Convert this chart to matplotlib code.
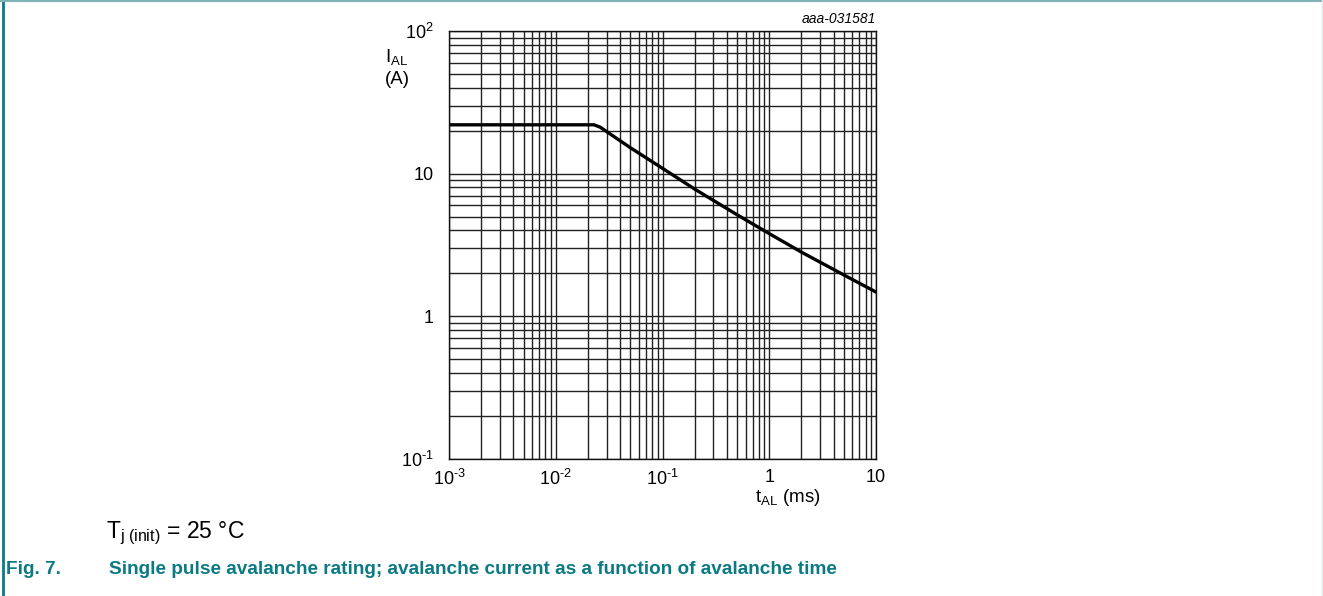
import matplotlib
matplotlib.use("Agg")
import matplotlib.pyplot as plt
from matplotlib.ticker import LogLocator, FixedLocator, NullFormatter

plt.rcParams['font.family'] = ['Liberation Sans', 'DejaVu Sans']
plt.rcParams['mathtext.fontset'] = 'custom'
plt.rcParams['mathtext.rm'] = 'Liberation Sans'
plt.rcParams['mathtext.it'] = 'Liberation Sans:italic'

# avalanche time (ms) vs avalanche current (A)
t_al = [0.001, 0.005, 0.0228, 0.026, 0.05, 0.1, 0.2, 0.5, 1, 2, 5, 10]
i_al = [22, 22, 22, 21.2, 15.2, 10.9, 7.8, 5.15, 3.8, 2.82, 1.95, 1.48]

x_ticks = [1e-3, 1e-2, 1e-1, 1, 10]
x_labels = [r'$10^{\text{-}3}$', r'$10^{\text{-}2}$', r'$10^{\text{-}1}$', '1', '10']
y_ticks = [0.1, 1, 10, 100]
y_labels = [r'$10^{\text{-}1}$', '1', '10', r'$10^{2}$']

teal = '#0b7a84'

fig = plt.figure(figsize=(13.23, 5.96), dpi=100)
ax = fig.add_axes([449 / 1323, 1 - 459 / 596, 427 / 1323, 428 / 596])

ax.set_xscale('log')
ax.set_yscale('log')
ax.set_xlim(1e-3, 10)
ax.set_ylim(0.1, 100)

ax.xaxis.set_major_locator(FixedLocator(x_ticks))
ax.set_xticklabels(x_labels)
ax.yaxis.set_major_locator(FixedLocator(y_ticks))
ax.set_yticklabels(y_labels)
for axis in (ax.xaxis, ax.yaxis):
    axis.set_minor_locator(LogLocator(base=10, subs=range(2, 10), numticks=20))
    axis.set_minor_formatter(NullFormatter())

ax.grid(True, which='both', color='#222222', linewidth=1.0)
ax.tick_params(which='both', length=0, labelsize=13)
ax.tick_params(axis='x', pad=7)
ax.tick_params(axis='y', pad=11)
for s in ax.spines.values():
    s.set_color('#111111')
    s.set_linewidth(1.0)

ax.plot(t_al, i_al, color='black', linewidth=2.4, solid_joinstyle='round')

fig.text(385 / 1323, 1 - 57 / 596, r'$\mathregular{I_{AL}}$', fontsize=13.5, va='center')
fig.text(385 / 1323, 1 - 79 / 596, '(A)', fontsize=13.5, va='center')
fig.text(755 / 1323, 1 - 497 / 596, r'$\mathregular{t_{AL}}$ (ms)', fontsize=13.5, va='center')
fig.text(876 / 1323, 1 - 19 / 596, 'aaa-031581', fontsize=10, style='italic',
         ha='right', va='center')

fig.text(106 / 1323, 1 - 533 / 596, r'$\mathregular{T_{j\ (init)}}$ = 25 °C', fontsize=16.5,
         va='center')
fig.text(6 / 1323, 1 - 570 / 596, 'Fig. 7.', fontsize=13.7, fontweight='bold',
         color=teal, va='center')
fig.text(109 / 1323, 1 - 570 / 596,
         'Single pulse avalanche rating; avalanche current as a function of avalanche time',
         fontsize=13.7, fontweight='bold', color=teal, va='center')

# page frame
fig.add_artist(plt.Line2D([2.5 / 1323, 2.5 / 1323], [0, 1], color=teal, linewidth=2))
fig.add_artist(plt.Line2D([0, 1], [1 - 1 / 596, 1 - 1 / 596], color='#7fb3b8', linewidth=1.5))
fig.add_artist(plt.Line2D([1322 / 1323, 1322 / 1323], [0, 1], color='#e0e8e8', linewidth=1))

fig.savefig('out.png', dpi=100)
